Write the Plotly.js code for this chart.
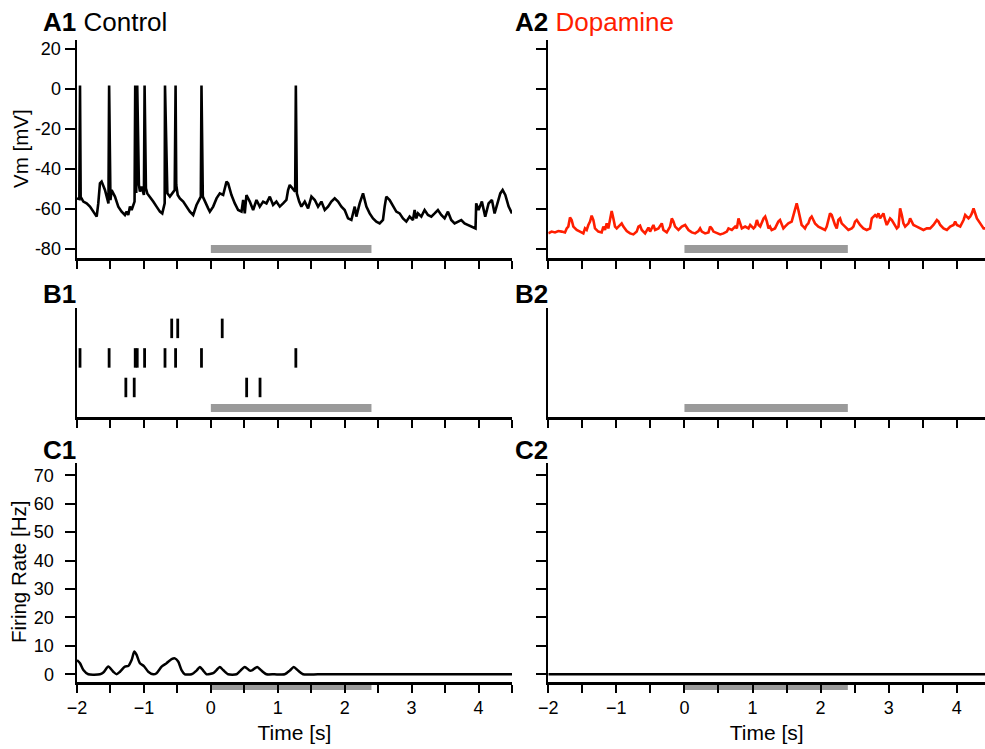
<!DOCTYPE html>
<html><head><meta charset="utf-8">
<script src="https://cdn.plot.ly/plotly-3.0.1.min.js"></script>
<style>html,body{margin:0;padding:0;background:#fff}#chart{width:985px;height:749px}</style>
</head><body><div id="chart"></div>
<script>
// ---- A1: membrane potential, control (time in s, Vm in mV)
const a1Time = [
-2.000,-1.965,-1.955,-1.945,-1.905,-1.856,-1.806,-1.756,-1.706,-1.682,
-1.657,-1.632,-1.582,-1.530,-1.520,-1.500,-1.483,-1.433,-1.383,-1.333,
-1.284,-1.259,-1.234,-1.209,-1.184,-1.140,-1.130,-1.115,-1.100,-1.075,
-1.060,-1.035,-1.000,-0.990,-0.970,-0.950,-0.910,-0.861,-0.811,-0.761,
-0.726,-0.690,-0.685,-0.650,-0.612,-0.540,-0.527,-0.517,-0.495,-0.463,
-0.413,-0.363,-0.313,-0.264,-0.214,-0.150,-0.140,-0.120,-0.090,-0.040,
-0.015,0.035,0.085,0.134,0.184,0.234,0.259,0.308,0.358,0.408,
0.458,0.483,0.507,0.532,0.582,0.632,0.682,0.731,0.781,0.831,
0.881,0.930,0.980,1.030,1.080,1.129,1.154,1.179,1.260,1.270,
1.285,1.320,1.353,1.403,1.453,1.503,1.553,1.602,1.652,1.702,
1.751,1.801,1.851,1.901,1.951,2.000,2.050,2.100,2.150,2.174,
2.224,2.274,2.324,2.373,2.423,2.473,2.523,2.572,2.597,2.622,
2.672,2.722,2.771,2.821,2.871,2.921,2.970,3.020,3.045,3.070,
3.095,3.145,3.194,3.244,3.294,3.344,3.393,3.443,3.493,3.543,
3.592,3.642,3.692,3.742,3.791,3.841,3.891,3.930,3.955,3.965,
4.000,4.050,4.100,4.150,4.200,4.240,4.290,4.325,4.360,4.400,
4.450,4.500];
const a1Vm = [
-54.7,-55.0,1.7,-54.0,-56.3,-57.2,-58.8,-61.3,-63.8,-57.2,
-47.2,-46.3,-50.5,-57.2,1.7,-55.5,-50.5,-53.8,-58.8,-61.3,
-63.0,-61.3,-63.0,-58.8,-60.5,-56.3,1.7,-52.0,1.7,-48.0,
-51.3,-48.8,-53.0,1.7,-49.7,-52.2,-53.8,-56.3,-58.8,-61.3,
-62.2,-57.2,1.7,-52.2,-53.8,-50.5,1.7,-48.0,-53.0,-54.7,
-56.3,-58.8,-61.3,-63.0,-58.0,-53.8,1.7,-53.8,-56.3,-59.7,
-61.3,-58.8,-54.7,-52.2,-53.0,-46.3,-47.2,-53.0,-57.2,-60.5,
-61.3,-55.5,-62.2,-53.0,-56.3,-60.5,-55.5,-58.8,-56.3,-57.2,
-53.8,-58.0,-56.3,-58.8,-57.2,-55.5,-50.5,-48.0,-51.3,1.7,
-52.2,-56.3,-58.8,-56.3,-59.7,-53.8,-55.5,-58.8,-56.3,-60.5,
-58.8,-56.3,-54.7,-56.3,-58.8,-60.5,-64.7,-65.5,-58.8,-63.8,
-57.2,-52.2,-58.8,-62.2,-64.7,-66.3,-67.2,-65.5,-58.8,-53.8,
-55.5,-58.8,-61.3,-62.2,-64.7,-66.3,-63.8,-65.5,-60.5,-64.7,
-62.2,-63.8,-60.5,-63.0,-63.8,-62.2,-60.5,-63.0,-64.7,-61.3,
-65.5,-67.2,-66.3,-65.5,-67.2,-68.0,-68.8,-69.2,-69.7,-57.2,
-60.5,-56.3,-63.8,-57.2,-55.5,-62.2,-56.3,-52.2,-50.5,-53.0,
-58.8,-62.2];

// ---- A2: membrane potential, dopamine
const a2Time = [
-2.000,-1.951,-1.902,-1.853,-1.804,-1.755,-1.730,-1.706,-1.681,-1.657,
-1.632,-1.583,-1.534,-1.485,-1.461,-1.436,-1.412,-1.387,-1.363,-1.338,
-1.314,-1.265,-1.216,-1.191,-1.167,-1.142,-1.118,-1.093,-1.069,-1.044,
-1.020,-0.995,-0.946,-0.922,-0.897,-0.848,-0.799,-0.750,-0.701,-0.676,
-0.652,-0.627,-0.578,-0.554,-0.529,-0.505,-0.480,-0.456,-0.431,-0.382,
-0.333,-0.309,-0.260,-0.211,-0.186,-0.162,-0.137,-0.088,-0.039,0.010,
0.059,0.108,0.157,0.206,0.230,0.255,0.304,0.353,0.377,0.402,
0.426,0.475,0.525,0.574,0.623,0.647,0.696,0.745,0.770,0.794,
0.819,0.843,0.892,0.941,0.966,1.015,1.039,1.064,1.088,1.113,
1.162,1.186,1.211,1.235,1.257,1.281,1.330,1.379,1.404,1.428,
1.453,1.477,1.526,1.575,1.600,1.624,1.649,1.673,1.698,1.722,
1.747,1.771,1.796,1.820,1.845,1.869,1.894,1.918,1.967,2.016,
2.065,2.090,2.114,2.139,2.163,2.188,2.212,2.237,2.261,2.286,
2.310,2.359,2.408,2.457,2.482,2.506,2.531,2.580,2.629,2.678,
2.727,2.752,2.801,2.825,2.850,2.874,2.899,2.923,2.948,2.972,
2.997,3.021,3.046,3.095,3.119,3.144,3.168,3.193,3.217,3.242,
3.291,3.315,3.340,3.364,3.413,3.462,3.511,3.560,3.609,3.658,
3.708,3.732,3.757,3.806,3.855,3.904,3.953,3.977,4.002,4.051,
4.100,4.124,4.173,4.198,4.222,4.247,4.271,4.296,4.345,4.369,
4.394,4.418];
const a2Vm = [
-72.2,-71.3,-71.7,-71.0,-71.3,-71.7,-69.7,-68.8,-64.3,-65.5,
-68.8,-70.5,-71.3,-72.2,-69.7,-70.5,-68.0,-66.3,-63.3,-65.5,
-69.7,-71.3,-71.7,-68.8,-70.5,-67.2,-69.7,-65.5,-61.0,-64.7,
-68.8,-69.7,-68.0,-67.2,-68.8,-71.0,-72.2,-72.7,-71.3,-68.8,
-68.3,-70.5,-72.2,-70.5,-69.3,-71.3,-69.7,-68.0,-70.5,-69.7,
-67.2,-70.5,-71.7,-68.8,-64.7,-66.3,-68.8,-70.5,-68.8,-68.0,
-70.5,-71.7,-72.2,-71.0,-69.7,-71.3,-72.2,-71.7,-68.8,-69.7,
-71.3,-72.2,-72.7,-72.2,-71.3,-69.7,-70.5,-68.8,-69.7,-64.7,
-68.0,-69.7,-68.8,-69.7,-68.0,-69.7,-68.8,-65.5,-68.0,-68.8,
-64.7,-63.8,-66.3,-69.7,-68.8,-70.5,-69.7,-66.3,-65.5,-68.0,
-69.7,-68.8,-67.2,-66.3,-63.0,-59.7,-57.2,-60.5,-64.7,-68.0,
-68.8,-69.7,-68.0,-67.2,-64.7,-63.8,-65.5,-67.2,-68.8,-69.7,
-70.5,-68.8,-65.5,-62.2,-63.0,-66.3,-68.0,-69.7,-65.5,-64.7,
-67.2,-68.8,-70.5,-69.7,-68.8,-66.3,-65.5,-68.0,-69.7,-70.5,
-69.7,-64.7,-63.0,-63.8,-62.2,-64.7,-63.0,-62.2,-65.5,-68.0,
-66.3,-64.7,-65.5,-68.0,-69.7,-68.8,-59.7,-63.0,-67.2,-68.8,
-67.2,-64.7,-66.3,-68.0,-68.8,-69.7,-70.5,-69.7,-69.7,-68.0,
-65.5,-66.3,-68.0,-69.7,-70.5,-68.8,-68.0,-66.3,-68.0,-68.8,
-65.5,-63.0,-64.7,-63.8,-62.2,-59.7,-62.2,-64.7,-67.2,-68.8,
-69.7,-69.7];

// ---- B1: spike raster, one array of spike times per trial (top to bottom)
const trial1Spikes = [-0.585, -0.495, 0.170];
const trial2Spikes = [-1.955, -1.520, -1.130, -1.100, -0.990, -0.685, -0.527, -0.140, 1.270];
const trial3Spikes = [-1.270, -1.145, 0.535, 0.735];
const trialRows = [3, 2, 1];

// ---- C: firing rate [Hz]
const c1Time = [-2.000,-1.955,-1.905,-1.831,-1.657,-1.607,-1.532,-1.458,-1.408,-1.358,
-1.284,-1.234,-1.184,-1.144,-1.109,-1.060,-1.000,-0.935,-0.861,-0.811,
-0.736,-0.662,-0.587,-0.537,-0.488,-0.438,-0.388,-0.289,-0.214,-0.164,
-0.114,-0.065,0.035,0.085,0.134,0.184,0.259,0.383,0.443,0.507,
0.582,0.622,0.692,0.756,0.831,0.950,1.104,1.179,1.239,1.303,
1.378,1.600,2.000,2.500,3.000,3.500,4.000,4.500];
const c1Rate = [5.0,3.9,1.5,0,0,0.6,2.7,0.9,0,0.9,
2.7,2.9,5.0,8.0,6.8,3.9,2.9,0.9,0,0.4,
2.7,3.9,5.3,5.6,4.5,1.5,0,0,1.3,2.6,
1.3,0,0.4,1.5,2.6,1.5,0,0,1.3,2.6,
1.3,1.5,2.6,1.3,0,0,0,1.3,2.6,1.3,
0,0,0,0,0,0,0,0];
const c2Time = [-2.0, 4.5];
const c2Rate = [0, 0];

// stimulus window [s]
const stimWindow = [0, 2.4];

// ticks
const timeTickVals = [-2,-1.5,-1,-0.5,0,0.5,1,1.5,2,2.5,3,3.5,4,4.5];
const timeTickText = ['\u22122','','\u22121','','0','','1','','2','','3','','4',''];
const vmTickVals = [-80,-60,-40,-20,0,20];
const vmTickText = ['-80','-60','-40','-20','0','20'];
const rateTickVals = [0,10,20,30,40,50,60,70];
const rateTickText = ['0','10','20','30','40','50','60','70'];

// ---- geometry (paper fractions)
const W = 985, H = 749;
const colL = [77/W, 512/W], colR = [548.3/W, 1];
const rowA = [1-258/H, 1-40/H], rowB = [1-417/H, 1-308/H], rowC = [1-682/H, 1-462.7/H];
const RED = '#ff1e00', GREY = '#9a9a9a';
const FONT = 'Liberation Sans, Arial, sans-serif';

function rasterTrace(trials, rows, xa, ya) {
  const xs = [], ys = [];
  trials.forEach((sp, i) => {
    sp.forEach(t => { xs.push(t, t, null); ys.push(rows[i] - 0.33, rows[i] + 0.33, null); });
  });
  return {type:'scatter', mode:'lines', x: xs, y: ys, xaxis: xa, yaxis: ya,
          line:{color:'#000', width:2.8}, hoverinfo:'skip'};
}

const traces = [
  {type:'scatter', mode:'lines', x:a1Time, y:a1Vm, xaxis:'x', yaxis:'y', line:{color:'#000', width:2.6}},
  {type:'scatter', mode:'lines', x:a2Time, y:a2Vm, xaxis:'x2', yaxis:'y2', line:{color:RED, width:2.6}},
  rasterTrace([trial1Spikes, trial2Spikes, trial3Spikes], trialRows, 'x3', 'y3'),
  {type:'scatter', mode:'lines', x:[], y:[], xaxis:'x4', yaxis:'y4'},
  {type:'scatter', mode:'lines', x:c1Time, y:c1Rate, xaxis:'x5', yaxis:'y5', line:{color:'#000', width:2.5, shape:'spline', smoothing:0.6}},
  {type:'scatter', mode:'lines', x:c2Time, y:c2Rate, xaxis:'x6', yaxis:'y6', line:{color:'#000', width:2.5}}
];

const axBase = {showline:true, linecolor:'#000', linewidth:2.5, ticks:'outside', tickcolor:'#000',
  tickwidth:2, showgrid:false, zeroline:false, fixedrange:true, tickfont:{family:FONT, size:18, color:'#000'}};
function xAx(dom, rng, anchor, labels) {
  const o = Object.assign({}, axBase, {domain:dom, range:rng, anchor:anchor, ticklen:8,
    tickmode:'array', tickvals:timeTickVals, ticktext:timeTickText, showticklabels:labels});
  if (labels) o.title = {text:'Time [s]', font:{family:FONT, size:21, color:'#000'}, standoff:8};
  return o;
}
function yAx(dom, rng, anchor, vals, text, labels, lstand) {
  const o = Object.assign({}, axBase, {domain:dom, range:rng, anchor:anchor, ticklen:10,
    tickmode:'array', tickvals:vals, ticktext:text, showticklabels:labels});
  if (lstand) o.ticklabelstandoff = lstand;
  return o;
}

const shapes = [];
[['x','y'],['x2','y2']].forEach(([xa,ya]) => shapes.push({type:'rect', xref:xa, yref:ya, x0:stimWindow[0], x1:stimWindow[1], y0:-82, y1:-78, fillcolor:GREY, line:{width:0}, layer:'below'}));
[['x3','y3'],['x4','y4']].forEach(([xa,ya]) => shapes.push({type:'rect', xref:xa, yref:ya, x0:stimWindow[0], x1:stimWindow[1], y0:0.17, y1:0.44, fillcolor:GREY, line:{width:0}, layer:'below'}));
[['x5','y5 domain'],['x6','y6 domain']].forEach(([xa,ya]) => shapes.push({type:'rect', xref:xa, yref:ya, x0:stimWindow[0], x1:stimWindow[1], y0:-0.037, y1:-0.004, fillcolor:GREY, line:{width:0}, layer:'below'}));

function panelLabel(txt, px, py) {
  return {text:txt, xref:'paper', yref:'paper', x:px/W, y:1-py/H, xanchor:'left', yanchor:'middle',
    showarrow:false, font:{family:FONT, size:26, color:'#000'}};
}
function yTitle(txt, px, py) {
  return {text:txt, xref:'paper', yref:'paper', x:px/W, y:1-py/H, xanchor:'center', yanchor:'middle',
    textangle:-90, showarrow:false, font:{family:FONT, size:20.5, color:'#000'}};
}
const annotations = [
  panelLabel('<b>A1</b> Control', 41, 22),
  panelLabel('<b>A2</b> <span style="color:' + RED + '">Dopamine</span>', 513, 22),
  panelLabel('<b>B1</b>', 41, 294),
  panelLabel('<b>B2</b>', 513, 294),
  panelLabel('<b>C1</b>', 41, 450),
  panelLabel('<b>C2</b>', 513, 450),
  yTitle('Vm [mV]', 21, 149),
  yTitle('Firing Rate [Hz]', 18, 572)
];

const layout = {
  width:W, height:H, margin:{l:0, r:0, t:0, b:0}, showlegend:false,
  paper_bgcolor:'#fff', plot_bgcolor:'rgba(0,0,0,0)',
  font:{family:FONT, size:18, color:'#000'},
  xaxis: xAx(colL, [-2, 4.5], 'y', false),
  yaxis: yAx(rowA, [-84.5, 24.5], 'x', vmTickVals, vmTickText, true, 0),
  xaxis2: xAx(colR, [-2, 4.415], 'y2', false),
  yaxis2: yAx(rowA, [-84.5, 24.5], 'x2', vmTickVals, vmTickText, false),
  xaxis3: xAx(colL, [-2, 4.5], 'y3', false),
  yaxis3: Object.assign({}, axBase, {domain:rowB, range:[0, 3.69], anchor:'x3', ticks:'', showticklabels:false}),
  xaxis4: xAx(colR, [-2, 4.415], 'y4', false),
  yaxis4: Object.assign({}, axBase, {domain:rowB, range:[0, 3.69], anchor:'x4', ticks:'', showticklabels:false}),
  xaxis5: xAx(colL, [-2, 4.5], 'y5', true),
  yaxis5: yAx(rowC, [-2.71, 74.4], 'x5', rateTickVals, rateTickText, true, 7),
  xaxis6: xAx(colR, [-2, 4.415], 'y6', true),
  yaxis6: yAx(rowC, [-2.71, 74.4], 'x6', rateTickVals, rateTickText, false),
  shapes: shapes,
  annotations: annotations
};

Plotly.newPlot('chart', traces, layout, {displayModeBar:false, staticPlot:true});
</script>
</body></html>
